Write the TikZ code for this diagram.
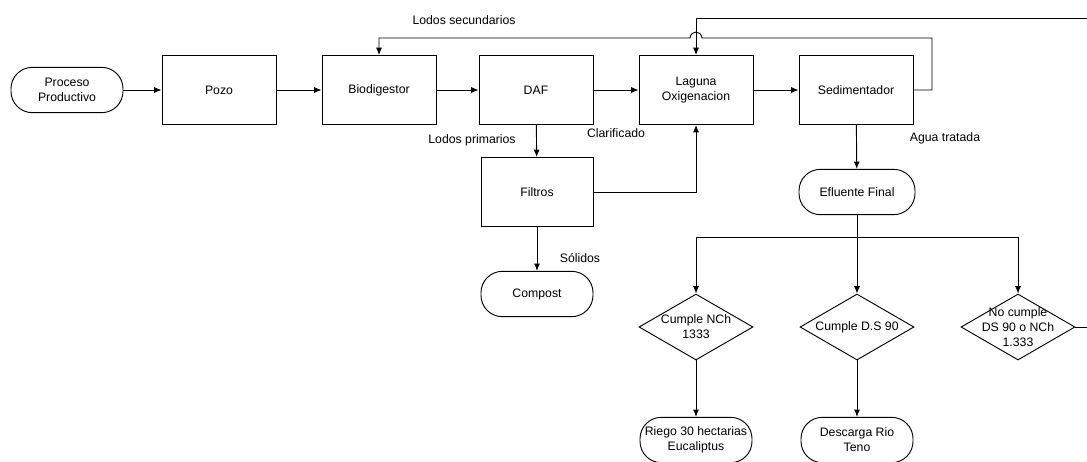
\documentclass[tikz,border=0pt]{standalone}
\usepackage{fontspec}
\setmainfont{Liberation Sans}
\usepackage{tikz}
\usetikzlibrary{shapes.geometric,arrows.meta}

\tikzset{
  proc/.style={draw, line width=0.7pt, minimum width=85.5pt, minimum height=51.75pt, align=center},
  term/.style={draw, line width=0.7pt, rounded corners=16pt, minimum width=84pt, minimum height=34pt, align=center, inner sep=1pt},
  dec/.style={draw, diamond, line width=0.7pt, minimum width=85.5pt, minimum height=49.5pt, inner sep=0pt},
  flow/.style={line width=0.7pt, -{Latex[length=5.5pt,width=4.5pt]}},
  wire/.style={line width=0.7pt},
  lbl/.style={inner sep=0pt}
}

\begin{document}
\begin{tikzpicture}[x=0.75pt,y=0.75pt,yscale=-1,xscale=1, font=\fontsize{9.2}{11.2}\selectfont]
\useasboundingbox (0,0) rectangle (1087,461);
\clip (0,0) rectangle (1087,461);

% main line
\node [term] (prod) at (67,90) {Proceso\\Productivo};
\node [proc] (pozo) at (219,90) {Pozo};
\node [proc] (bio) at (379,90) {Biodigestor};
\node [proc] (daf) at (536,90) {DAF};
\node [proc] (lag) at (696,90) {Laguna\\Oxigenacion};
\node [proc] (sed) at (856,90) {Sedimentador};

% lodos
\node [proc, minimum width=84pt] (fil) at (537,192) {Filtros};
\node [term] (comp) at (537,294) {Compost};
\node [term, minimum width=87pt] (efl) at (857,192) {Efluente Final};

% decisiones
\node [dec, label={[align=center]center:Cumple NCh\\1333}] (d1) at (696,327) {};
\node [dec, label={[align=center]center:Cumple D.S 90}] (d2) at (857,327) {};
\node [dec, label={[align=center]center:No cumple\\DS 90 o NCh\\1.333}] (d3) at (1018,327) {};
\node [term] (riego) at (696,440) {Riego 30 hectarias\\Eucaliptus};
\node [term] (desc) at (857,440) {Descarga Rio\\Teno};

% textos
\node [lbl] (t1) at (464,20) {Lodos secundarios};
\node [lbl] (t2) at (472,140) {Lodos primarios};
\node [lbl] (t3) at (616,133) {Clarificado};
\node [lbl] (t4) at (580,258) {Sólidos};
\node [lbl] (t5) at (945,138) {Agua tratada};

\coordinate (sedR) at (932,38);
\coordinate (outR) at (1100,18);
\coordinate (split) at (857,237);

\draw [flow] (prod) -- (pozo);
\draw [flow] (pozo) -- (bio);
\draw [flow] (bio) -- (daf);
\draw [flow] (daf) -- (lag);
\draw [flow] (lag) -- (sed);
\draw [flow] (sed.east) -| (sedR) -- (702,38) .. controls (701,30) and (691,30) .. (690,38) -| (bio.north);
\draw [flow] (outR) -| (lag.north);
\draw [flow] (daf) -- (fil);
\draw [flow] (fil.east) -| (lag.south);
\draw [flow] (fil) -- (comp);
\draw [flow] (sed) -- (efl);
\draw [wire] (efl.south) -- (split);
\draw [flow] (split) -| (d1.north);
\draw [flow] (split) -- (d2.north);
\draw [flow] (split) -| (d3.north);
\draw [flow] (d1) -- (riego);
\draw [flow] (d2) -- (desc);
\draw [wire] (d3.east) -- (1100,327) |- (outR);
\end{tikzpicture}
\end{document}
